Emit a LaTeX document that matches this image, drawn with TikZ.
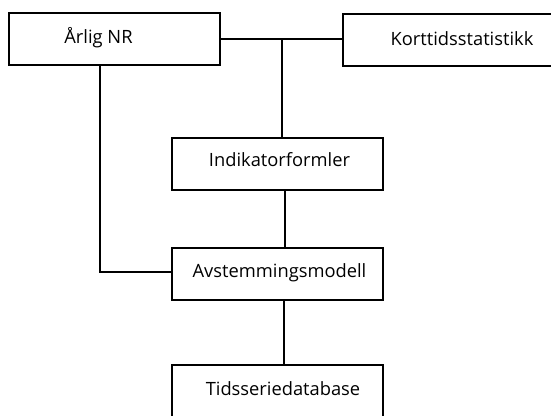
\documentclass[tikz,border=0pt]{standalone}
\usepackage{fontspec}
\setmainfont{Open Sans}
\usetikzlibrary{calc}
\begin{document}
\begin{tikzpicture}[x=1pt,y=-1pt,
  box/.style={draw=black, line width=2pt, minimum width=211pt, minimum height=52pt, inner sep=0pt},
  txt/.style={anchor=base, inner sep=0pt, font=\fontsize{18.3}{20}\selectfont},
  conn/.style={draw=black, line width=2pt}]
\clip (0,0) rectangle (551,415);
\fill[white] (0,0) rectangle (551,415);
\node[box] (A) at (114,39) {};
\node[box] (K) at (448.5,40) {};
\node[box] (I) at (277.5,164) {};
\node[box] (V) at (277.5,274) {};
\node[box] (T) at (277.5,391) {};
\node[txt] (tA) at ($(A.center)+(-15.5,4.3)$) {Årlig NR};
\node[txt] (tK) at ($(K.center)+(13.5,5.7)$) {Korttidsstatistikk};
\node[txt] (tI) at ($(I.center)+(2,2.7)$) {Indikatorformler};
\node[txt] (tV) at ($(V.center)+(2,3.7)$) {Avstemmingsmodell};
\node[txt] (tT) at ($(T.center)+(5.5,4)$) {Tidsseriedatabase};
\coordinate (J) at (282,39);
\coordinate (L) at (100,272);
\draw[conn] (J -| A.east) -- (J -| K.west);
\draw[conn] (J) -- (J |- I.north);
\draw[conn] ([xshift=7.5pt]I.south) -- ([xshift=7.5pt]V.north);
\draw[conn] ([xshift=6.5pt]V.south) -- ([xshift=6.5pt]T.north);
\draw[conn] (L |- A.south) -- (L) -- (L -| V.west);
\end{tikzpicture}
\end{document}
